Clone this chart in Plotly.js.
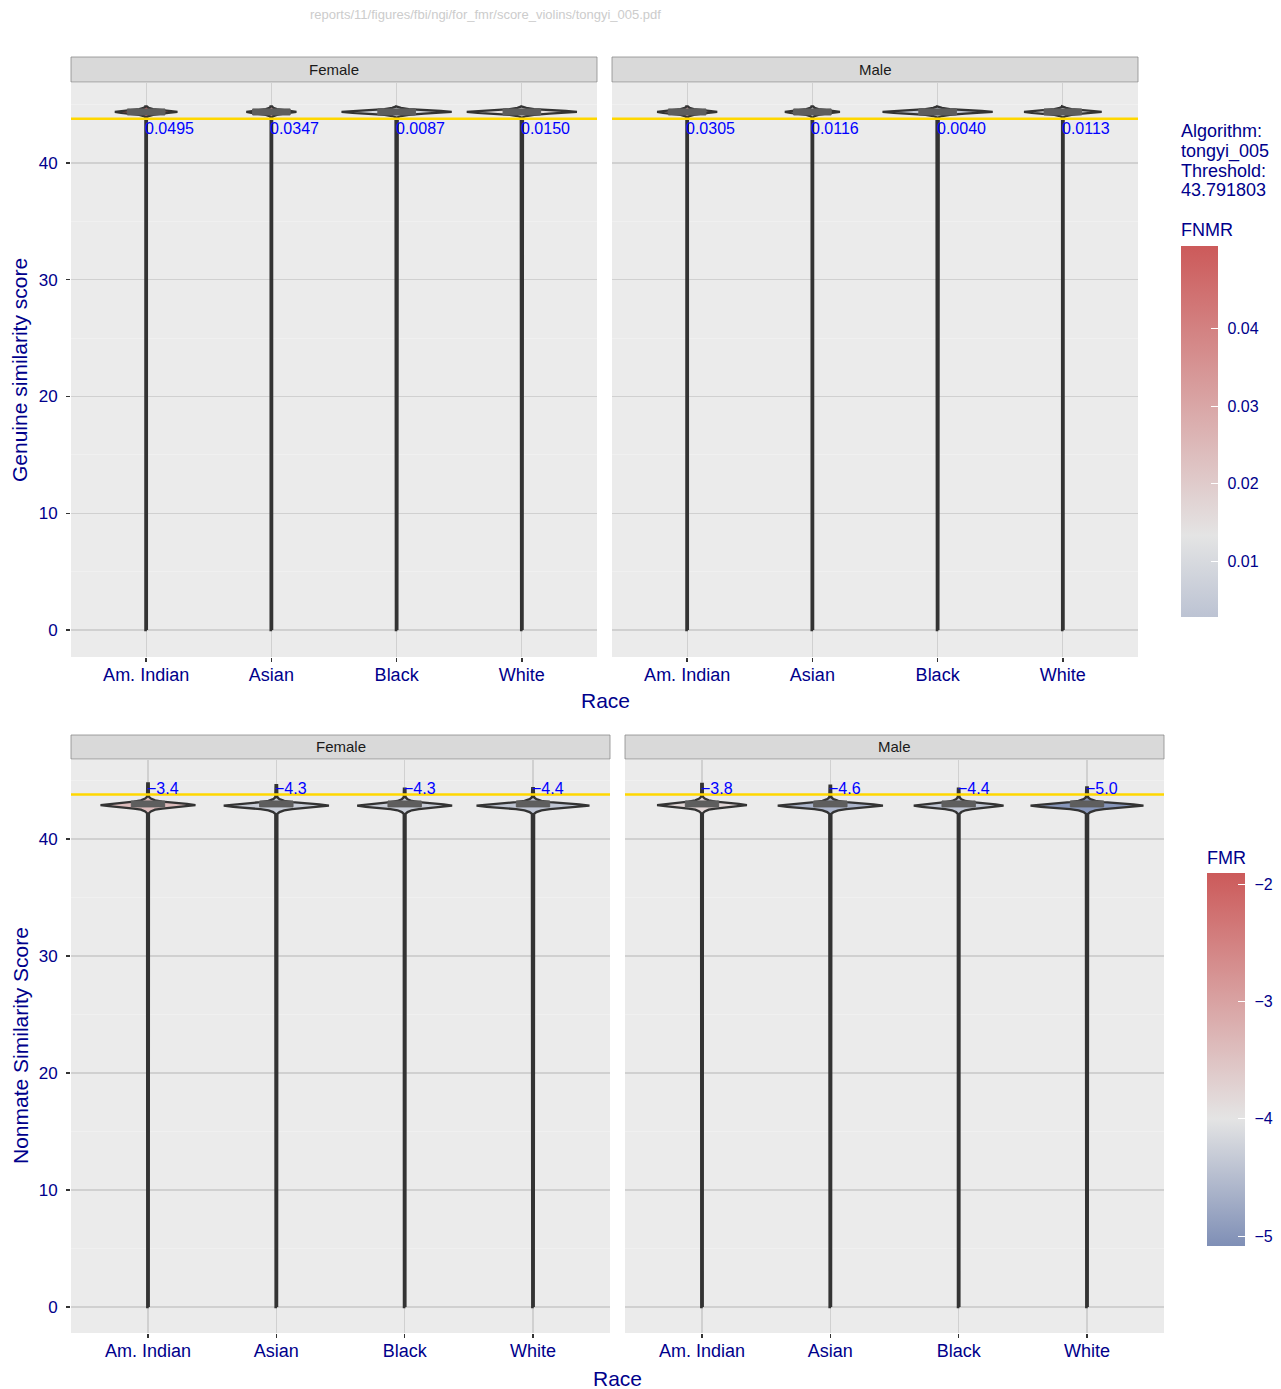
<!DOCTYPE html>
<html>
<head>
<meta charset="utf-8">
<script src="https://cdn.plot.ly/plotly-3.0.1.min.js"></script>
<style>html,body{margin:0;padding:0;background:#fff;}#chart{width:1281px;height:1389px;}</style>
</head>
<body>
<div id="chart"></div>
<script>
// ---------------- data ----------------
const races = ["Am. Indian", "Asian", "Black", "White"];
const sexes = ["Female", "Male"];
const threshold = 43.791803;
const algorithm = "tongyi_005";

const fnmrFemale = [0.0495, 0.0347, 0.0087, 0.0150];
const fnmrMale   = [0.0305, 0.0116, 0.0040, 0.0113];
const fmrFemale  = [-3.4, -4.3, -4.3, -4.4];
const fmrMale    = [-3.8, -4.6, -4.4, -5.0];

// genuine score distributions
const genuineMin = 0;
const genuineModeFemale = [44.37, 44.37, 44.37, 44.37];
const genuineModeMale   = [44.37, 44.37, 44.37, 44.37];
const genuineMaxFemale  = [44.85, 44.85, 44.85, 44.85];
const genuineMaxMale    = [44.85, 44.85, 44.85, 44.85];
const genuineWidthFemale = [0.25, 0.20, 0.44, 0.44];
const genuineWidthMale   = [0.24, 0.22, 0.44, 0.31];
const genuineQ1 = 44.11, genuineQ3 = 44.63;
const genuineProfileDy  = [-0.45, -0.35, -0.25, -0.15, -0.08, 0, 0.08, 0.15, 0.25, 0.35, 0.45];
const genuineProfileRel = [0.02, 0.08, 0.22, 0.50, 0.80, 1, 0.80, 0.50, 0.22, 0.08, 0.02];

// nonmate score distributions
const nonmateMin = 0;
const nonmateModeFemale = [42.9, 42.85, 42.85, 42.85];
const nonmateModeMale   = [42.9, 42.85, 42.85, 42.85];
const nonmateMaxFemale  = [44.75, 44.6, 44.3, 44.35];
const nonmateMaxMale    = [44.7, 44.55, 44.3, 44.4];
const nonmateWidthFemale = [0.37, 0.41, 0.37, 0.44];
const nonmateWidthMale   = [0.35, 0.41, 0.35, 0.44];
const nonmateQ1 = 42.74, nonmateQ3 = 43.25;
const nonmateProfileDy  = [-0.7, -0.55, -0.4, -0.3, -0.2, -0.1, 0, 0.1, 0.2, 0.3, 0.4, 0.55, 0.7];
const nonmateProfileRel = [0.02, 0.06, 0.15, 0.30, 0.52, 0.82, 1, 0.82, 0.52, 0.30, 0.15, 0.06, 0.02];

const fnmrTicks = [0.01, 0.02, 0.03, 0.04];
const fmrTicks = [-5, -4, -3, -2];
const yTicks = [0, 10, 20, 30, 40];
const yMinorTicks = [5, 15, 25, 35, 45];

// colour scales
const fnmrLimits = [0.0028, 0.0507];
const fmrLimits = [-5.085, -1.906];
const fnmrScale = [[0, "#bcc3d3"], [0.219, "#e4e4e4"], [1, "#cc5a5a"]];
const fmrScale  = [[0, "#7f8fb6"], [0.341, "#e4e4e4"], [1, "#cc5a5a"]];

// ---------------- helpers ----------------
const W = 1281, H = 1389;
const px = x => x / W;
const py = y => 1 - y / H;
const TXT = "#00008B";
const FONT = "Liberation Sans, Arial, sans-serif";

function hex2rgb(h) { return [1,3,5].map(i => parseInt(h.substr(i,2),16)); }
function scaleColor(scale, lim, v) {
  let t = (v - lim[0]) / (lim[1] - lim[0]);
  t = Math.max(0, Math.min(1, t));
  for (let k = 1; k < scale.length; k++) {
    if (t <= scale[k][0]) {
      const a = hex2rgb(scale[k-1][1]), b = hex2rgb(scale[k][1]);
      const f = (t - scale[k-1][0]) / (scale[k][0] - scale[k-1][0]);
      const c = a.map((av, j) => Math.round(av + (b[j]-av)*f));
      return "rgb(" + c.join(",") + ")";
    }
  }
  return scale[scale.length-1][1];
}

const tailW = 0.006;
function violinTrace(xc, mode, width, minV, maxV, dy, rel, fill, xa, ya) {
  const rx = [xc + tailW], ry = [minV];
  for (let k = 0; k < dy.length; k++) {
    rx.push(xc + Math.max(tailW, width * rel[k]));
    ry.push(mode + dy[k]);
  }
  rx.push(xc + tailW); ry.push(maxV);
  const lx = rx.map(v => 2*xc - v).reverse();
  const ly = ry.slice().reverse();
  return {
    type: "scatter", mode: "lines", x: rx.concat(lx, [rx[0]]), y: ry.concat(ly, [ry[0]]),
    fill: "toself", fillcolor: fill, line: {color: "#333333", width: 2.3},
    xaxis: xa, yaxis: ya, hoverinfo: "skip", showlegend: false
  };
}
function boxTrace(xc, q1, q3, hw, xa, ya) {
  return {
    type: "scatter", mode: "lines",
    x: [xc-hw, xc+hw, xc+hw, xc-hw, xc-hw], y: [q1, q1, q3, q3, q1],
    fill: "toself", fillcolor: "#5e5e5e", line: {color: "#5e5e5e", width: 1},
    xaxis: xa, yaxis: ya, hoverinfo: "skip", showlegend: false
  };
}

const traces = [];
const annotations = [];
const shapes = [];
const panels = [
  {xa: "x",  ya: "y",  mode: genuineModeFemale, max: genuineMaxFemale, width: genuineWidthFemale, min: genuineMin,
   dy: genuineProfileDy, rel: genuineProfileRel, q1: genuineQ1, q3: genuineQ3, bhw: 0.15,
   vals: fnmrFemale, scale: fnmrScale, lim: fnmrLimits, kind: "fnmr"},
  {xa: "x2", ya: "y2", mode: genuineModeMale, max: genuineMaxMale, width: genuineWidthMale, min: genuineMin,
   dy: genuineProfileDy, rel: genuineProfileRel, q1: genuineQ1, q3: genuineQ3, bhw: 0.15,
   vals: fnmrMale, scale: fnmrScale, lim: fnmrLimits, kind: "fnmr"},
  {xa: "x3", ya: "y3", mode: nonmateModeFemale, max: nonmateMaxFemale, width: nonmateWidthFemale, min: nonmateMin,
   dy: nonmateProfileDy, rel: nonmateProfileRel, q1: nonmateQ1, q3: nonmateQ3, bhw: 0.13,
   vals: fmrFemale, scale: fmrScale, lim: fmrLimits, kind: "fmr"},
  {xa: "x4", ya: "y4", mode: nonmateModeMale, max: nonmateMaxMale, width: nonmateWidthMale, min: nonmateMin,
   dy: nonmateProfileDy, rel: nonmateProfileRel, q1: nonmateQ1, q3: nonmateQ3, bhw: 0.13,
   vals: fmrMale, scale: fmrScale, lim: fmrLimits, kind: "fmr"}
];

panels.forEach(p => {
  races.forEach((r, i) => {
    const xc = i + 1;
    const fill = scaleColor(p.scale, p.lim, p.vals[i]);
    traces.push(violinTrace(xc, p.mode[i], p.width[i], p.min, p.max[i], p.dy, p.rel, fill, p.xa, p.ya));
  });
  races.forEach((r, i) => {
    traces.push(boxTrace(i + 1, p.q1, p.q3, p.bhw, p.xa, p.ya));
  });
  races.forEach((r, i) => {
    if (p.kind === "fnmr") {
      annotations.push({xref: p.xa, yref: p.ya, x: i + 1, y: threshold, text: p.vals[i].toFixed(4),
        showarrow: false, xanchor: "left", yanchor: "top", xshift: -3, yshift: 1,
        font: {family: FONT, size: 16, color: "#0000FF"}});
    } else {
      annotations.push({xref: p.xa, yref: p.ya, x: i + 1, y: threshold, text: p.vals[i].toFixed(1).replace("-", "\u2212"),
        showarrow: false, xanchor: "left", yanchor: "bottom", xshift: -3, yshift: -4,
        font: {family: FONT, size: 16, color: "#0000FF"}});
    }
  });
});

// colourbars
const cbFnmr = {left: 1181, top: 246, len: 371, thick: 37};
const cbFmr  = {left: 1207, top: 873, len: 373, thick: 38};
const LABEL_PAD = "\u2008\u200A";
function cbConf(cb, tickvals, ticktext) {
  return {x: px(cb.left), xanchor: "left", y: py(cb.top), yanchor: "top", len: cb.len, lenmode: "pixels",
    thickness: cb.thick, thicknessmode: "pixels", xpad: 0, ypad: 0, outlinewidth: 0,
    ticks: "inside", ticklen: 7, tickcolor: "#ffffff", tickwidth: 1,
    tickvals: tickvals, ticktext: ticktext.map(t => LABEL_PAD + t), tickfont: {family: FONT, size: 16, color: TXT},
    title: {text: ""}};
}
traces.push({type: "scatter", mode: "markers", x: [1,2,3,4], y: fnmrFemale.map(() => threshold), xaxis: "x", yaxis: "y",
  marker: {color: fnmrFemale, opacity: 0, size: 1, colorscale: fnmrScale, cmin: fnmrLimits[0], cmax: fnmrLimits[1],
    showscale: true, colorbar: cbConf(cbFnmr, fnmrTicks, fnmrTicks.map(v => v.toFixed(2)))},
  hoverinfo: "skip", showlegend: false});
traces.push({type: "scatter", mode: "markers", x: [1,2,3,4], y: fmrFemale.map(() => threshold), xaxis: "x3", yaxis: "y3",
  marker: {color: fmrFemale, opacity: 0, size: 1, colorscale: fmrScale, cmin: fmrLimits[0], cmax: fmrLimits[1],
    showscale: true, colorbar: cbConf(cbFmr, fmrTicks, fmrTicks.map(v => "\u2212" + Math.abs(v)))},
  hoverinfo: "skip", showlegend: false});

// ---------------- layout ----------------
function xAxis(d0, d1, anchor) {
  return {domain: [px(d0), px(d1)], anchor: anchor, range: [0.4, 4.6], tickvals: [1,2,3,4], ticktext: races,
    showgrid: true, gridcolor: "#d0d0d0", gridwidth: 1.2, zeroline: false, showline: false,
    ticks: "outside", ticklen: 4, tickwidth: 1.5, tickcolor: "#333333", ticklabelstandoff: -3,
    tickfont: {family: FONT, size: 18, color: TXT}, fixedrange: true};
}
function yAxis(t0, t1, range, anchor, labels) {
  return {domain: [py(t1), py(t0)], anchor: anchor, range: range, tickvals: yTicks,
    showgrid: true, gridcolor: "#d0d0d0", gridwidth: 1.2, zeroline: false, showline: false,
    minor: {tickvals: yMinorTicks, showgrid: true, gridcolor: "#f1f1f1", gridwidth: 0.8, ticks: ""},
    ticks: labels ? "outside" : "", ticklen: 4, tickwidth: 1.5, tickcolor: "#333333",
    showticklabels: labels, ticklabelstandoff: 5,
    tickfont: {family: FONT, size: 17, color: TXT}, fixedrange: true};
}

const strips = [
  {x0: 71, x1: 597, y0: 57, y1: 82, text: sexes[0]},
  {x0: 612, x1: 1138, y0: 57, y1: 82, text: sexes[1]},
  {x0: 71, x1: 610, y0: 735, y1: 759, text: sexes[0]},
  {x0: 625, x1: 1164, y0: 735, y1: 759, text: sexes[1]}
];
strips.forEach(s => {
  shapes.push({type: "rect", xref: "paper", yref: "paper", x0: px(s.x0), x1: px(s.x1), y0: py(s.y1), y1: py(s.y0),
    fillcolor: "#d9d9d9", line: {color: "#8a8a8a", width: 0.8}, layer: "below"});
  annotations.push({xref: "paper", yref: "paper", x: px((s.x0 + s.x1) / 2), y: py((s.y0 + s.y1) / 2),
    text: s.text, showarrow: false, xanchor: "center", yanchor: "middle",
    font: {family: FONT, size: 15, color: "#1a1a1a"}});
});
["x", "x2", "x3", "x4"].forEach((xa, k) => {
  const ya = ["y", "y2", "y3", "y4"][k];
  shapes.push({type: "line", xref: xa + " domain", yref: ya, x0: 0, x1: 1, y0: threshold, y1: threshold,
    line: {color: "#FFD700", width: 2.5}, layer: "above"});
});

function txt(x, y, text, size, opts) {
  return Object.assign({xref: "paper", yref: "paper", x: px(x), y: py(y), text: text, showarrow: false,
    xanchor: "left", yanchor: "middle", font: {family: FONT, size: size, color: TXT}}, opts || {});
}
annotations.push(txt(486, 15, "reports/11/figures/fbi/ngi/for_fmr/score_violins/" + algorithm + ".pdf", 13,
  {xanchor: "center", font: {family: FONT, size: 13, color: "#cccccc"}}));
annotations.push(txt(20, 370, "Genuine similarity score", 21, {xanchor: "center", textangle: -90}));
annotations.push(txt(605, 700, "Race", 21, {xanchor: "center"}));
annotations.push(txt(20, 1046, "Nonmate Similarity Score", 21, {xanchor: "center", textangle: -90}));
annotations.push(txt(617, 1378, "Race", 21, {xanchor: "center"}));
annotations.push(txt(1179, 131, "Algorithm:", 18));
annotations.push(txt(1179, 151, algorithm, 18));
annotations.push(txt(1179, 171, "Threshold:", 18));
annotations.push(txt(1179, 190, threshold.toFixed(6), 18));
annotations.push(txt(1179, 230, "FNMR", 18));
annotations.push(txt(1205, 858, "FMR", 18));

const layout = {
  width: W, height: H, margin: {l: 0, r: 0, t: 0, b: 0},
  paper_bgcolor: "#ffffff", plot_bgcolor: "#ebebeb",
  showlegend: false, font: {family: FONT, color: TXT},
  xaxis: xAxis(71, 597, "y"), yaxis: yAxis(83, 657, [-2.31, 46.85], "x", true),
  xaxis2: xAxis(612, 1138, "y2"), yaxis2: yAxis(83, 657, [-2.31, 46.85], "x2", false),
  xaxis3: xAxis(71, 610, "y3"), yaxis3: yAxis(760, 1333, [-2.22, 46.75], "x3", true),
  xaxis4: xAxis(625, 1164, "y4"), yaxis4: yAxis(760, 1333, [-2.22, 46.75], "x4", false),
  shapes: shapes, annotations: annotations
};

Plotly.newPlot("chart", traces, layout, {displayModeBar: false, staticPlot: true});
</script>
</body>
</html>
